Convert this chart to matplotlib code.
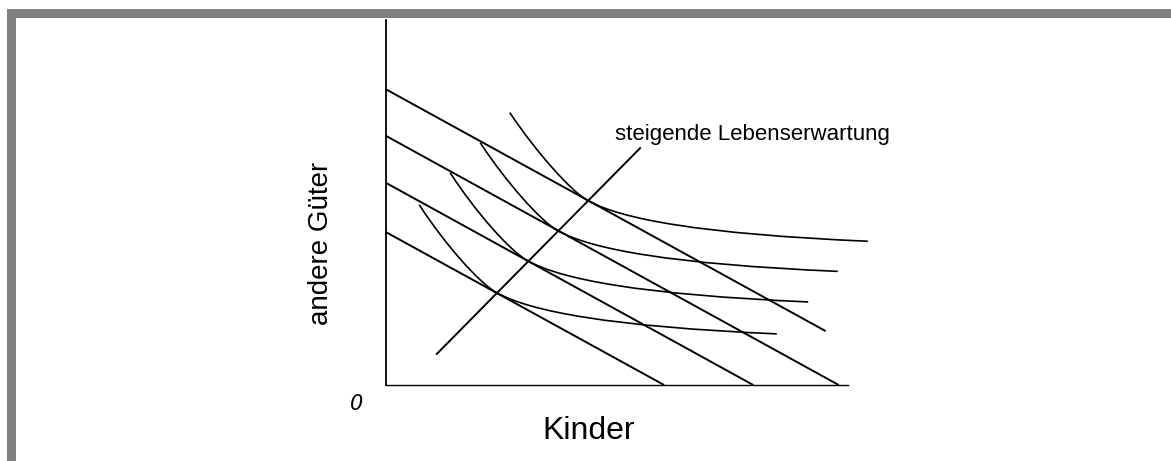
import matplotlib
matplotlib.use("Agg")
import matplotlib.pyplot as plt
from matplotlib.path import Path
from matplotlib.patches import PathPatch, Rectangle

# axis units: Kinder 0..100, andere Gueter 0..80
# budget lines: start on the y axis, end point
budget_y0 = [64.8, 54.6, 44.3, 33.5]
budget_x1 = [95.2, 98.0, 79.5, 60.2]
budget_y1 = [11.8, 0.0, 0.0, 0.0]

# indifference curves, each as two cubic bezier pieces (7 control points),
# the middle point is the tangency with the budget line
curve_x = [
    [26.8, 32.4, 40.0, 43.7, 51.1, 68.1, 104.3],
    [20.4, 25.9, 33.5, 37.2, 44.6, 61.6, 97.8],
    [13.9, 19.4, 27.0, 30.7, 38.1, 55.1, 91.4],
    [7.2, 12.7, 20.3, 24.0, 31.4, 48.4, 84.6],
]
curve_y = [
    [59.7, 51.2, 42.5, 40.4, 36.3, 33.1, 31.5],
    [53.1, 44.6, 35.9, 33.8, 29.7, 26.5, 24.9],
    [46.5, 37.9, 29.2, 27.2, 23.1, 19.8, 18.2],
    [39.5, 30.9, 22.2, 20.2, 16.1, 12.8, 11.2],
]

# expansion path (steigende Lebenserwartung)
path_x = [11.0, 55.0]
path_y = [6.8, 51.9]

fig = plt.figure(figsize=(11.71, 4.61), dpi=100)
ax = fig.add_axes([0.3296, 0.1649, 0.3945, 0.7918])
ax.set_xlim(0, 100)
ax.set_ylim(0, 80)
ax.set_xticks([])
ax.set_yticks([])
ax.spines['top'].set_visible(False)
ax.spines['right'].set_visible(False)
ax.spines['left'].set_linewidth(1.3)
ax.spines['bottom'].set_linewidth(1.0)

for y0, x1, y1 in zip(budget_y0, budget_x1, budget_y1):
    ax.plot([0, x1], [y0, y1], color='black', lw=1.4, clip_on=False,
            solid_capstyle='butt')

codes = [Path.MOVETO] + [Path.CURVE4] * 6
for cx, cy in zip(curve_x, curve_y):
    p = Path(list(zip(cx, cy)), codes)
    ax.add_patch(PathPatch(p, fill=False, edgecolor='black', lw=1.2,
                           clip_on=False))

ax.plot(path_x, path_y, color='black', lw=1.4, clip_on=False)

ax.text(49.6, 53.7, 'steigende Lebenserwartung', fontsize=16,
        family='Liberation Sans', va='baseline', ha='left')
ax.text(43.9, -11.8, 'Kinder', fontsize=23, family='Liberation Sans',
        va='baseline', ha='center')
ax.text(-14.1, 31.1, 'andere Güter', fontsize=20, family='Liberation Sans',
        rotation=90, va='center', ha='center')
ax.text(-6.3, -4.1, '0', fontsize=15, style='italic', family='DejaVu Sans',
        va='center', ha='center')

# grey frame on top and left
fig.add_artist(Rectangle((7 / 1171, 443 / 461), 1, 9 / 461,
                         transform=fig.transFigure, color='#808080', lw=0))
fig.add_artist(Rectangle((7 / 1171, 0), 9 / 1171, 452 / 461,
                         transform=fig.transFigure, color='#808080', lw=0))

fig.savefig('out.png', dpi=100)
